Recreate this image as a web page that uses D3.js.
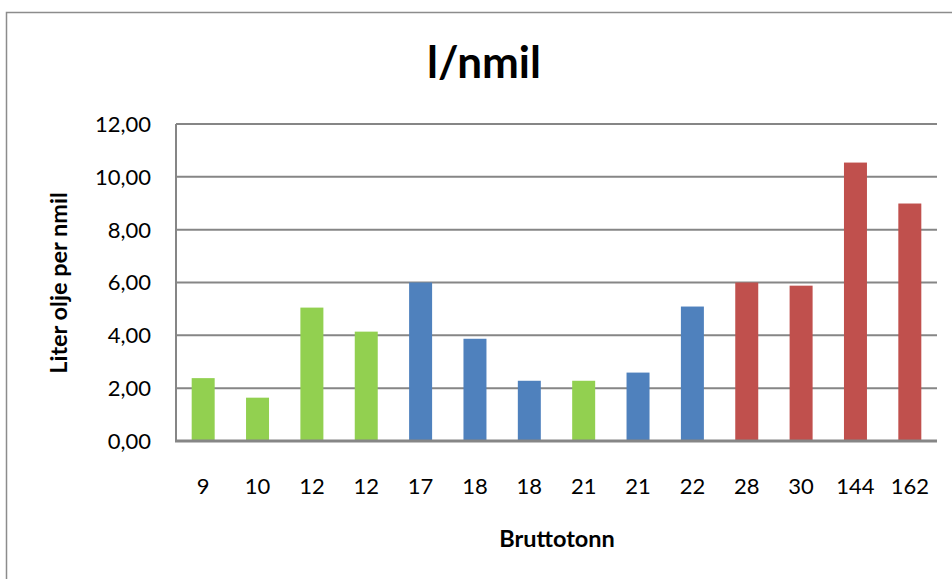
<!DOCTYPE html>
<html>
<head>
<meta charset="utf-8">
<script src="https://cdn.jsdelivr.net/npm/d3@7"></script>
<style>
  body { margin:0; background:#fff; }
  svg { display:block; font-family: Lato, "Open Sans", sans-serif; }
</style>
</head>
<body>
<svg id="chart" width="952" height="579"></svg>
<script>
// data
var tonnage = ["9","10","12","12","17","18","18","21","21","22","28","30","144","162"];
var litres  = [2.38,1.64,5.05,4.14,6.00,3.87,2.28,2.28,2.59,5.09,6.00,5.88,10.54,8.99];
var group   = ["g","g","g","g","b","b","b","g","b","b","r","r","r","r"];
var yTicks  = [0,2,4,6,8,10,12];

var colours = {g:"#92D050", b:"#4F81BD", r:"#C0504D"};

var svg = d3.select("#chart");
var margin = {left:176, right:15, top:124, bottom:138};
var W = 952, H = 579;

// outer chart frame (runs off the right and bottom of the picture)
svg.append("rect")
  .attr("x",6.5).attr("y",12.5).attr("width",1000).attr("height",600)
  .attr("fill","none").attr("stroke","#8c8c8c").attr("stroke-width",1.5);

var x = d3.scaleBand()
  .domain(d3.range(tonnage.length))
  .range([margin.left, W - margin.right])
  .paddingInner(0.577).paddingOuter(0.2885);

var y = d3.scaleLinear().domain([0,12]).range([441, margin.top]);

// gridlines
svg.append("g").selectAll("line")
  .data(yTicks.filter(function(d){ return d > 0; }))
  .enter().append("line")
  .attr("x1", margin.left).attr("x2", W - margin.right)
  .attr("y1", function(d){ return y(d); }).attr("y2", function(d){ return y(d); })
  .attr("stroke","#868686").attr("stroke-width",2);

// bars
svg.append("g").selectAll("rect")
  .data(litres)
  .enter().append("rect")
  .attr("x", function(d,i){ return x(i); })
  .attr("width", x.bandwidth())
  .attr("y", function(d){ return y(d); })
  .attr("height", function(d){ return y(0) - y(d); })
  .attr("fill", function(d,i){ return colours[group[i]]; });

// axis lines
svg.append("line")
  .attr("x1", margin.left).attr("x2", margin.left)
  .attr("y1", margin.top).attr("y2", y(0))
  .attr("stroke","#868686").attr("stroke-width",2);
svg.append("line")
  .attr("x1", margin.left - 1).attr("x2", W - margin.right)
  .attr("y1", y(0)).attr("y2", y(0))
  .attr("stroke","#868686").attr("stroke-width",3);

// y tick labels
var fmt = function(d){ return d3.format(".2f")(d).replace(".", ","); };
svg.append("g").selectAll("text")
  .data(yTicks)
  .enter().append("text")
  .attr("x", 151).attr("y", function(d){ return y(d); })
  .attr("dy","0.36em")
  .attr("text-anchor","end")
  .attr("font-size",22)
  .attr("fill","#000")
  .text(fmt);

// x tick labels
svg.append("g").selectAll("text")
  .data(tonnage)
  .enter().append("text")
  .attr("x", function(d,i){ return x(i) + x.bandwidth()/2; })
  .attr("y", 494)
  .attr("text-anchor","middle")
  .attr("font-size",22)
  .text(function(d){ return d; });

// title and axis titles
svg.append("text")
  .attr("x", 484).attr("y", 78)
  .attr("text-anchor","middle")
  .attr("font-size",44).attr("font-weight","bold")
  .text("l/nmil");

svg.append("text")
  .attr("x", 557).attr("y", 547)
  .attr("text-anchor","middle")
  .attr("font-size",23.5).attr("font-weight","bold")
  .text("Bruttotonn");

svg.append("text")
  .attr("transform","translate(67,283) rotate(-90)")
  .attr("text-anchor","middle")
  .attr("font-size",23.5).attr("font-weight","bold")
  .text("Liter olje per nmil");
</script>
</body>
</html>
